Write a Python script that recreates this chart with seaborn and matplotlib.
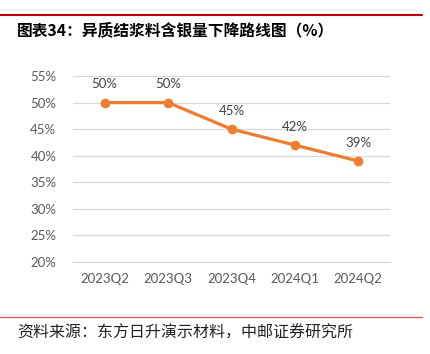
import matplotlib
matplotlib.use("Agg")
import matplotlib.pyplot as plt
import seaborn as sns
import pandas as pd
from matplotlib.lines import Line2D

categories = ["2023Q2", "2023Q3", "2023Q4", "2024Q1", "2024Q2"]
values = [0.50, 0.50, 0.45, 0.42, 0.39]
labels = ["50%", "50%", "45%", "42%", "39%"]
yticks = [0.20, 0.25, 0.30, 0.35, 0.40, 0.45, 0.50, 0.55]
ytick_labels = ["20%", "25%", "30%", "35%", "40%", "45%", "50%", "55%"]

title = "图表34：异质结浆料含银量下降路线图（%）"
source = "资料来源：东方日升演示材料，中邮证券研究所"

sns.set_style("white")
plt.rcParams['font.family'] = ['Lato', 'Noto Sans CJK SC', 'DejaVu Sans']

W, H = 430, 354
fig = plt.figure(figsize=(W / 100, H / 100), dpi=100)
ax = fig.add_axes([73 / W, 1 - 262 / H, (390 - 73) / W, (262 - 76) / H])

df = pd.DataFrame({"cat": categories, "val": values})
df["x"] = range(len(categories))
sns.lineplot(data=df, x="x", y="val", ax=ax, color="#ED7D31", linewidth=2.3,
             marker="o", markersize=7, markeredgewidth=0, zorder=3)

ax.set_xlim(-0.5, len(categories) - 0.5)
ax.set_ylim(0.20, 0.55)
ax.set_yticks(yticks)
ax.set_yticklabels(ytick_labels)
ax.set_xticks(range(len(categories)))
ax.set_xticklabels(categories)
ax.set_xlabel("")
ax.set_ylabel("")

ax.grid(axis="y", color="#D9D9D9", linewidth=0.9, zorder=0)
ax.grid(axis="x", visible=False)
for s in ["top", "right", "left"]:
    ax.spines[s].set_visible(False)
ax.spines["bottom"].set_color("#D9D9D9")
ax.spines["bottom"].set_linewidth(0.9)

ax.tick_params(axis="y", length=0, labelsize=9.5, labelcolor="#595959", pad=12)
ax.tick_params(axis="x", length=0, labelsize=9.5, labelcolor="#595959", pad=8)
# category boundary ticks
ax.set_xticks([i - 0.5 for i in range(len(categories) + 1)], minor=True)
ax.tick_params(axis="x", which="minor", length=4, color="#D9D9D9", width=0.9)

for i, (v, lab) in enumerate(zip(values, labels)):
    ax.annotate(lab, (i, v), xytext=(0, 9), textcoords="offset points",
                ha="center", va="bottom", fontsize=9.5, color="#404040")

# header/footer decorations
fig.add_artist(Line2D([0, 422 / W], [1 - 15 / H, 1 - 15 / H], color="#C00000", linewidth=1.5,
                      transform=fig.transFigure))
fig.add_artist(Line2D([0, 422 / W], [1 - 317 / H, 1 - 317 / H], color="#D9534F", linewidth=0.9,
                      transform=fig.transFigure))
fig.text(17 / W, 1 - 30 / H, title, fontsize=11.3, fontweight="bold", color="#000000",
         ha="left", va="center", family=['Noto Sans CJK SC', 'DejaVu Sans'])
fig.text(17 / W, 1 - 333 / H, source, fontsize=11.5, color="#222222",
         ha="left", va="center", family=['Noto Sans CJK SC', 'DejaVu Sans'])

fig.savefig("out.png", dpi=100, facecolor="white")
